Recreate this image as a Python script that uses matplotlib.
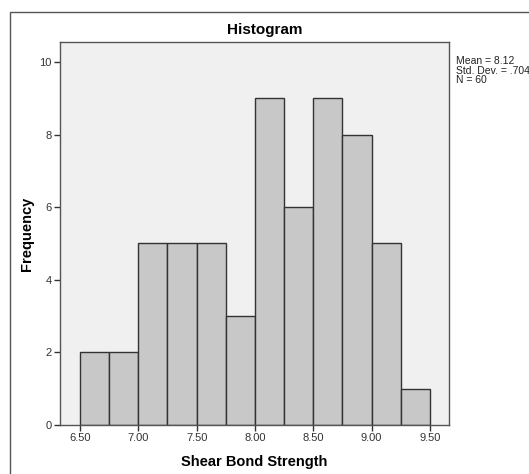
import matplotlib
matplotlib.use("Agg")
import matplotlib.pyplot as plt
from matplotlib.patches import Rectangle
import numpy as np

plt.rcParams['font.family'] = ['Liberation Sans', 'DejaVu Sans']

bin_edges = [6.50, 6.75, 7.00, 7.25, 7.50, 7.75, 8.00, 8.25, 8.50, 8.75, 9.00, 9.25, 9.50]
counts = [2, 2, 5, 5, 5, 3, 9, 6, 9, 8, 5, 1]
x_ticks = [6.50, 7.00, 7.50, 8.00, 8.50, 9.00, 9.50]
y_ticks = [0, 2, 4, 6, 8, 10]
stats_lines = ["Mean = 8.12", "Std. Dev. = .704", "N = 60"]

W, H = 529, 474
fig = plt.figure(figsize=(W / 100, H / 100), dpi=100)
fig.patch.set_facecolor('white')

# outer frame
fig.patches.append(Rectangle((10 / W, -0.1), 1.2, 1 - 12 / H + 0.1, transform=fig.transFigure,
                             fill=False, edgecolor='#555555', linewidth=1.0))

left, right, top, bottom = 60, 449, 42, 425
ax = fig.add_axes([left / W, 1 - bottom / H, (right - left) / W, (bottom - top) / H])
ax.set_facecolor('#f0f0f0')

widths = np.diff(bin_edges)
ax.bar(bin_edges[:-1], counts, width=widths, align='edge', color='#c8c8c8',
       edgecolor='#333333', linewidth=1.0)

ax.set_xlim(6.329, 9.663)
ax.set_ylim(0, 10.55)
ax.set_xticks(x_ticks)
ax.set_xticklabels([f"{v:.2f}" for v in x_ticks])
ax.set_yticks(y_ticks)
ax.tick_params(axis='both', labelsize=8, colors='#333333', length=4, width=1.0, pad=2)
for s in ax.spines.values():
    s.set_color('#555555')
    s.set_linewidth(1.0)

ax.set_xlabel("Shear Bond Strength", fontsize=10.5, fontweight='bold')
ax.set_ylabel("Frequency", fontsize=10.5, fontweight='bold')
ax.xaxis.set_label_coords((254 - left) / (right - left), -(462 - bottom) / (bottom - top))
ax.yaxis.set_label_coords(-(60 - 27) / (right - left), 0.5)
ax.xaxis.label.set_va('center')
ax.yaxis.label.set_va('center')

fig.text(265 / W, 1 - 30 / H, "Histogram", ha='center', va='center', fontsize=11, fontweight='bold')
fig.text(456 / W, 1 - 56 / H, "\n".join(stats_lines), ha='left', va='top', fontsize=7.5,
         linespacing=0.95, color='#222222')

fig.savefig("out.png", dpi=100)
